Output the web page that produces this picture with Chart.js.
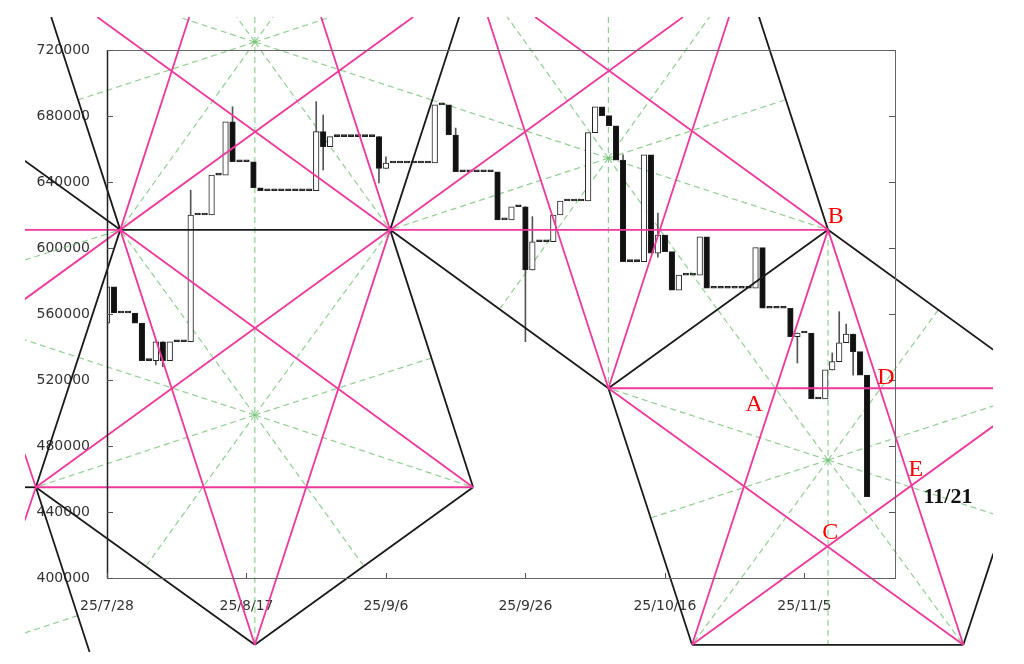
<!DOCTYPE html>
<html>
<head>
<meta charset="utf-8">
<script src="https://cdn.jsdelivr.net/npm/chart.js@4.4.1/dist/chart.umd.min.js"></script>
<style>
  html, body { margin: 0; padding: 0; background: #fff; }
  #wrap { width: 1024px; height: 664px; }
</style>
</head>
<body>
<div id="wrap"><canvas id="chart"></canvas></div>
<script>
// x = day number, day 0 = 25/7/28
const xTickLabels = ['25/7/28', '25/8/17', '25/9/6', '25/9/26', '25/10/16', '25/11/5'];
const yMin = 400000, yMax = 720000, yStep = 40000;

// daily open / close, days 0..109
const opens = [
  554500, 576400, 560600, 560600, 560600, 554500, 531700, 531700, 543200, 531700,
  543200, 543200, 543200, 620000, 620000, 620000, 644200, 644200, 676400, 652300,
  652300, 652300, 636500, 634700, 634700, 634700, 634700, 634700, 634700, 634700,
  634700, 670500, 661400, 667500, 667500, 667500, 667500, 667500, 667500, 667500,
  648300, 651500, 651500, 651500, 651500, 651500, 651500, 651500, 686700, 686700,
  668500, 646200, 646200, 646200, 646200, 646200, 646200, 617000, 617000, 625000,
  625000, 586700, 603800, 603800, 603800, 620000, 628500, 628500, 628500, 628500,
  669900, 685600, 680200, 674100, 653300, 591700, 591700, 591700, 656400, 596800,
  607900, 597800, 574500, 583600, 583600, 583600, 606800, 575600, 575600, 575600,
  575600, 575600, 575600, 575600, 600200, 563500, 563500, 563500, 563500, 546200,
  548500, 548500, 508500, 508500, 526100, 531100, 542600, 547900, 537200, 523000
];
const closes = [
  576400, 560600, 560600, 560600, 554500, 531700, 531700, 543200, 531700, 543200,
  543200, 543200, 620000, 620000, 620000, 644200, 644200, 676400, 652300, 652300,
  652300, 636500, 634700, 634700, 634700, 634700, 634700, 634700, 634700, 634700,
  670500, 661400, 667500, 667500, 667500, 667500, 667500, 667500, 667500, 648300,
  651500, 651500, 651500, 651500, 651500, 651500, 651500, 686700, 686700, 668500,
  646200, 646200, 646200, 646200, 646200, 646200, 617000, 617000, 625000, 625000,
  586700, 603800, 603800, 603800, 620000, 628500, 628500, 628500, 628500, 669900,
  685600, 680200, 674100, 653300, 591700, 591700, 591700, 656400, 596800, 607900,
  597800, 574500, 583600, 583600, 583600, 606800, 575600, 575600, 575600, 575600,
  575600, 575600, 575600, 600200, 563500, 563500, 563500, 563500, 546200, 548500,
  548500, 508500, 508500, 526100, 531100, 542600, 547900, 537200, 523000, 449300
];
// shadows that stick out of the body
const wickDays  = [7, 8, 12, 18, 30, 31, 39, 40, 50, 60, 61, 74, 79, 99, 104, 105, 106, 107];
const wickLows  = [529100, 528000, 620000, 676400, 670500, 647300, 639400, 648300, 668500, 543200, 586700, 653300, 594500, 530300, 526100, 531100, 542600, 523000];
const wickHighs = [543200, 543200, 635000, 685600, 688700, 680600, 667500, 655300, 672700, 625000, 619000, 656400, 621200, 548500, 536400, 561400, 553900, 547900];

// construction points [day, price]
const pts = {
  PL: [-10.2, 455000], P1: [1.9, 611000], PB: [21.2, 359500], P2: [40.6, 611000],
  PR: [52.5, 455000], P3: [71.9, 515000], B: [103.4, 611000],
  Q1: [83.9, 359500], Q2: [122.8, 359500],
  // where the lines leave the drawing
  L3top: [-1.4, 740000], L4top: [61.4, 740000], M1top: [82.6, 740000],
  M3left: [-11.8, 569000], M3top: [43.9, 740000], M5right: [127.1, 492100],
  S2top: [11.8, 740000], S3stub: [-11.8, 475200], S2stub: [-11.8, 434800],
  S5top: [30.7, 740000], S7top: [54.6, 740000], S8top: [89.2, 740000],
  H1left: [-11.8, 611000], H3right: [127.1, 515000], H2left: [-11.8, 455000],
  L2left: [-11.8, 652900], S1top: [-8.0, 740000], S3bot: [-2.5, 355200],
  S4top: [50.5, 740000], S9top: [93.5, 740000], L4right: [127.1, 538300],
  Q2right: [127.1, 414800],
  // star centres
  G0: [21.2, 724800], G1: [21.2, 498800], G2: [71.9, 654500], G3: [103.4, 471500],
  V0top: [21.2, 740000], V2top: [71.9, 740000], V3bot: [103.4, 359500],
  a1: [18.6, 740000], a2: [23.8, 740000], a3: [-4.2, 689700], a4: [46.6, 689700],
  a5: [10.3, 740000], a6: [32.1, 740000],
  b1: [5.7, 407900], b2: [36.7, 407900], b3: [-11.8, 544300], b4: [46.5, 533300],
  c1: [57.4, 740000], c2: [86.4, 740000], c3: [56.4, 563600], c4: [87.4, 563600],
  c5: [97.2, 689700],
  d1: [87.5, 563000], d2: [119.3, 563000], d3: [127.1, 504300], d4: [77.9, 436300],
  d5: [127.1, 438800],
  e1: [-11.8, 366700], e2: [-3.9, 377600], e3: [-11.8, 592700]
};

const pinkSegs = [
  ['L3top', 'P2'], ['P3', 'Q2'], ['P1', 'PR'], ['L4top', 'B'], ['PL', 'M1top'],
  ['M3left', 'M3top'], ['Q1', 'M5right'], ['P1', 'PB'], ['P1', 'S2top'],
  ['PL', 'S3stub'], ['PL', 'S2stub'], ['PB', 'P2'], ['S5top', 'P2'],
  ['S7top', 'P3'], ['S8top', 'P3'], ['B', 'Q2'], ['B', 'Q1'],
  ['H1left', 'P1'], ['P2', 'B'], ['PL', 'PR'], ['P3', 'H3right']
];
const blackSegs = [
  ['L2left', 'P1'], ['S1top', 'P1'], ['PL', 'P1'], ['PL', 'S3bot'], ['PL', 'PB'],
  ['PB', 'PR'], ['PR', 'P2'], ['P2', 'S4top'], ['P1', 'P2'], ['P2', 'P3'],
  ['P3', 'B'], ['P3', 'Q1'], ['S9top', 'B'], ['B', 'L4right'], ['Q1', 'Q2'],
  ['Q2', 'Q2right'], ['H2left', 'PL']
];
const greenSegs = [
  ['V0top', 'PB'], ['V2top', 'P3'], ['B', 'V3bot'],
  ['G0', 'P1'], ['G0', 'P2'], ['G0', 'a1'], ['G0', 'a2'], ['G0', 'a3'], ['G0', 'a4'], ['G0', 'a5'], ['G0', 'a6'],
  ['G1', 'P1'], ['G1', 'P2'], ['G1', 'b1'], ['G1', 'b2'], ['G1', 'PL'], ['G1', 'PR'], ['G1', 'b3'], ['G1', 'b4'],
  ['G2', 'c1'], ['G2', 'c2'], ['G2', 'c3'], ['G2', 'c4'], ['G2', 'a4'], ['G2', 'c5'], ['G2', 'P2'], ['G2', 'B'],
  ['G3', 'd1'], ['G3', 'd2'], ['G3', 'P3'], ['G3', 'd3'], ['G3', 'd4'], ['G3', 'd5'], ['G3', 'Q1'], ['G3', 'Q2'],
  ['e1', 'e2'], ['e3', 'P1']
];

const marks = [
  { text: 'A', at: [92.8, 504800], color: '#ff0000' },
  { text: 'B', at: [104.5, 618800], color: '#ff0000' },
  { text: 'C', at: [103.7, 427300], color: '#ff0000' },
  { text: 'D', at: [111.7, 521200], color: '#ff0000' },
  { text: 'E', at: [116.0, 465500], color: '#ff0000' },
  { text: '11/21', at: [120.6, 449100], color: '#111111' }
];

const overflow = { left: 82, top: 33, right: 98, bottom: 74 };

function segDataset(seg, color, width, dash, order) {
  return {
    type: 'line',
    data: seg.map(k => ({ x: pts[k][0], y: pts[k][1] })),
    borderColor: color,
    borderWidth: width,
    borderDash: dash,
    pointRadius: 0,
    fill: false,
    tension: 0,
    clip: overflow,
    order: order
  };
}

const days = closes.map((c, i) => i);
const bodyColors = days.map(d => closes[d] > opens[d] ? '#ffffff' : '#111111');

const datasets = [];
greenSegs.forEach(s => datasets.push(segDataset(s, 'rgba(110,190,110,0.75)', 1.2, [6, 4], 40)));
datasets.push({
  type: 'bar',
  data: wickDays.map((d, i) => ({ x: d, y: [wickLows[i], wickHighs[i]] })),
  backgroundColor: '#555',
  barThickness: 1,
  grouped: false,
  order: 30
});
datasets.push({
  type: 'bar',
  data: days.map(d => ({ x: d, y: [opens[d], closes[d]] })),
  backgroundColor: bodyColors,
  borderColor: '#222',
  borderWidth: 1,
  borderSkipped: false,
  barThickness: 5.6,
  minBarLength: 2,
  grouped: false,
  order: 29
});
blackSegs.forEach(s => datasets.push(segDataset(s, '#1a1a1a', 1.8, [], 10)));
pinkSegs.forEach(s => datasets.push(segDataset(s, '#f0379b', 1.8, [], 5)));

const framePlugin = {
  id: 'frame',
  afterDatasetsDraw(chart) {
    const { ctx, chartArea: a, scales: { x, y } } = chart;
    ctx.save();
    ctx.strokeStyle = '#666';
    ctx.lineWidth = 1;
    ctx.strokeRect(a.left + 0.5, a.top + 0.5, a.right - a.left, a.bottom - a.top);
    ctx.strokeStyle = '#222';
    ctx.lineWidth = 1.5;
    ctx.beginPath();
    ctx.moveTo(a.left + 0.5, a.top);
    ctx.lineTo(a.left + 0.5, a.bottom);
    ctx.stroke();
    ctx.strokeStyle = '#555';
    ctx.lineWidth = 1;
    ctx.beginPath();
    y.ticks.forEach(t => {
      const py = Math.round(y.getPixelForValue(t.value)) + 0.5;
      ctx.moveTo(a.left, py); ctx.lineTo(a.left + 6, py);
      ctx.moveTo(a.right, py); ctx.lineTo(a.right - 6, py);
    });
    x.ticks.forEach(t => {
      const px = Math.round(x.getPixelForValue(t.value)) + 0.5;
      ctx.moveTo(px, a.bottom); ctx.lineTo(px, a.bottom - 5);
    });
    ctx.stroke();
    ctx.restore();
  },
  afterDraw(chart) {
    const { ctx, scales: { x, y } } = chart;
    ctx.save();
    ctx.textAlign = 'center';
    ctx.textBaseline = 'middle';
    marks.forEach(m => {
      ctx.fillStyle = m.color;
      ctx.font = m.text.length > 1 ? 'bold 22px "Liberation Serif"' : '24px "Liberation Serif"';
      ctx.fillText(m.text, x.getPixelForValue(m.at[0]), y.getPixelForValue(m.at[1]));
    });
    ctx.restore();
  }
};

new Chart(document.getElementById('chart'), {
  type: 'bar',
  data: { datasets: datasets },
  options: {
    responsive: true,
    maintainAspectRatio: false,
    animation: false,
    layout: { padding: { top: 50, right: 129, left: 0, bottom: 0 } },
    plugins: { legend: { display: false }, tooltip: { enabled: false } },
    scales: {
      x: {
        type: 'linear',
        min: 0,
        max: 113,
        offset: false,
        grid: { display: false, offset: false },
        border: { display: false },
        afterFit: s => { s.height = 86; },
        ticks: {
          stepSize: 20,
          includeBounds: false,
          maxRotation: 0,
          autoSkip: false,
          padding: 12,
          color: '#333',
          font: { family: 'DejaVu Sans', size: 14 },
          callback: v => v % 20 === 0 ? xTickLabels[v / 20] : ''
        }
      },
      y: {
        type: 'linear',
        min: yMin,
        max: yMax,
        grid: { display: false },
        border: { display: false },
        afterFit: s => { s.width = 107; },
        ticks: {
          stepSize: yStep,
          padding: 9,
          color: '#333',
          font: { family: 'DejaVu Sans', size: 14 },
          callback: v => String(v)
        }
      }
    }
  },
  plugins: [framePlugin]
});
</script>
</body>
</html>
